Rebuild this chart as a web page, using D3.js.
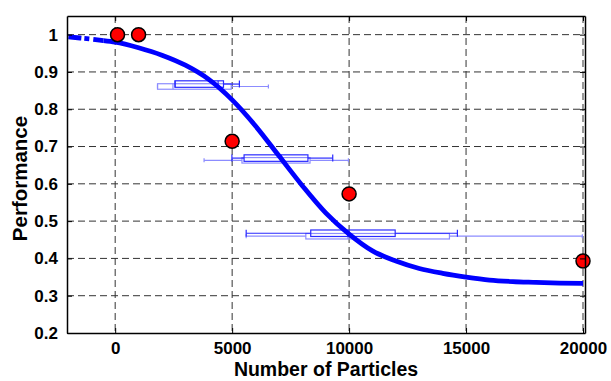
<!DOCTYPE html>
<html>
<head>
<meta charset="utf-8">
<script src="https://cdn.jsdelivr.net/npm/d3@7"></script>
<style>
  body { margin: 0; background: #fff; }
  text { font-family: "Liberation Sans", Arial, sans-serif; font-weight: bold; fill: #000; }
</style>
</head>
<body>
<div id="chart"></div>
<script>
// values
const xTicks = [0, 5000, 10000, 15000, 20000];
const yTicks = [0.2, 0.3, 0.4, 0.5, 0.6, 0.7, 0.8, 0.9, 1];
const yTickLabels = ['0.2', '0.3', '0.4', '0.5', '0.6', '0.7', '0.8', '0.9', '1'];

const fitX = [-2000, -1500, -1000, -500, 0, 1000, 2000, 3000, 4000, 5000, 6000, 7000, 8000,
  9000, 10000, 11000, 12000, 13000, 14000, 15000, 16000, 17000, 18000, 19000, 20000];
const fitY = [0.994, 0.991, 0.988, 0.984, 0.98, 0.965, 0.945, 0.918, 0.88, 0.825, 0.755, 0.675, 0.595,
  0.522, 0.465, 0.42, 0.393, 0.373, 0.36, 0.35, 0.342, 0.338, 0.336, 0.334, 0.333];

const pointX = [100, 1000, 5000, 10000, 20000];
const pointY = [1.0, 1.0, 0.714, 0.573, 0.393];

// box plots: dark set and light set
const boxY     = [0.8675, 0.669, 0.4675];
const boxLow   = [2560, 4990, 5600];
const boxQ1    = [2560, 5510, 8360];
const boxMed   = [4400, 7100, 9950];
const boxQ3    = [4630, 8240, 11970];
const boxHigh  = [5310, 9300, 14630];

const lboxY    = [0.861, 0.663, 0.4595];
const lboxLow  = [1810, 3800, 5600];
const lboxQ1   = [1810, 5420, 8150];
const lboxMed  = [2470, 7100, 9950];
const lboxQ3   = [4960, 8330, 14290];
const lboxHigh = [6550, 9970, 19970];

const W = 611, H = 381;
const margin = { top: 16, right: 26, bottom: 48, left: 67 };
const width = W - margin.left - margin.right;
const height = H - margin.top - margin.bottom;

const svg = d3.select('#chart').append('svg')
  .attr('width', W)
  .attr('height', H);

const g = svg.append('g')
  .attr('transform', `translate(${margin.left},${margin.top})`);

const x = d3.scaleLinear().domain([-2060, 20085]).range([0, width]);
const y = d3.scaleLinear().domain([0.2, 1.05]).range([height, 0]);

// grid
g.selectAll('.vgrid').data(xTicks).enter().append('line')
  .attr('x1', d => x(d)).attr('x2', d => x(d))
  .attr('y1', 0).attr('y2', height)
  .attr('stroke', '#333').attr('stroke-dasharray', '7,4');
g.selectAll('.hgrid').data(yTicks.filter(d => d > 0.2)).enter().append('line')
  .attr('x1', 0).attr('x2', width)
  .attr('y1', d => y(d)).attr('y2', d => y(d))
  .attr('stroke', '#333').attr('stroke-dasharray', '7,4');

// box plots
function drawBoxes(ys, lo, q1, med, q3, hi, color, h, capH) {
  ys.forEach((v, i) => {
    const cy = y(v);
    const bg = g.append('g').attr('stroke', color).attr('fill', 'none').attr('stroke-width', 1.2);
    bg.append('line').attr('x1', x(lo[i])).attr('x2', x(q1[i])).attr('y1', cy).attr('y2', cy);
    bg.append('line').attr('x1', x(q3[i])).attr('x2', x(hi[i])).attr('y1', cy).attr('y2', cy);
    bg.append('line').attr('x1', x(lo[i])).attr('x2', x(lo[i])).attr('y1', cy - capH / 2).attr('y2', cy + capH / 2);
    bg.append('line').attr('x1', x(hi[i])).attr('x2', x(hi[i])).attr('y1', cy - capH / 2).attr('y2', cy + capH / 2);
    bg.append('rect').attr('x', x(q1[i])).attr('y', cy - h / 2)
      .attr('width', x(q3[i]) - x(q1[i])).attr('height', h);
    bg.append('line').attr('x1', x(med[i])).attr('x2', x(med[i])).attr('y1', cy - h / 2).attr('y2', cy + h / 2);
  });
}
drawBoxes(lboxY, lboxLow, lboxQ1, lboxMed, lboxQ3, lboxHigh, '#8c8cff', 5.5, 4);
drawBoxes(boxY, boxLow, boxQ1, boxMed, boxQ3, boxHigh, '#2a2aff', 6.5, 7);

// fitted curve: dash-dot start, then solid
const fit = fitX.map((d, i) => ({ x: d, y: fitY[i] }));
const line = d3.line().x(d => x(d.x)).y(d => y(d.y)).curve(d3.curveMonotoneX);
g.append('path')
  .datum(fit.filter(d => d.x <= -500))
  .attr('d', line)
  .attr('fill', 'none').attr('stroke', '#0000ff').attr('stroke-width', 4.8)
  .attr('stroke-dasharray', '13,3,5,4,11,3');
g.append('path')
  .datum(fit.filter(d => d.x >= -500))
  .attr('d', line)
  .attr('fill', 'none').attr('stroke', '#0000ff').attr('stroke-width', 4.8);

// measured points
g.selectAll('.pt').data(pointX).enter().append('circle')
  .attr('cx', d => x(d))
  .attr('cy', (d, i) => y(pointY[i]))
  .attr('r', 7)
  .attr('fill', '#ff0000')
  .attr('stroke', '#000')
  .attr('stroke-width', 1.5);

// axes (MATLAB style box with inward ticks)
const axB = g.append('g').attr('transform', `translate(0,${height})`)
  .call(d3.axisBottom(x).tickValues(xTicks).tickFormat(d3.format('d'))
    .tickSizeInner(-5).tickSizeOuter(0).tickPadding(9));
const axL = g.append('g')
  .call(d3.axisLeft(y).tickValues(yTicks).tickFormat((d, i) => yTickLabels[i])
    .tickSizeInner(-5).tickSizeOuter(0).tickPadding(9));
g.append('g')
  .call(d3.axisTop(x).tickValues(xTicks).tickSizeInner(-5).tickSizeOuter(0).tickFormat(''));
g.append('g').attr('transform', `translate(${width},0)`)
  .call(d3.axisRight(y).tickValues(yTicks).tickSizeInner(-5).tickSizeOuter(0).tickFormat(''));

g.selectAll('.domain').attr('stroke', '#000').attr('stroke-width', 1.5);
g.selectAll('.tick line').attr('stroke', '#000');
g.selectAll('.tick text').style('font-size', '17px').style('font-weight', 'bold')
  .style('font-family', '"Liberation Sans", Arial, sans-serif');
axB.selectAll('.tick text').attr('dy', '0.71em');

// axis titles
svg.append('text')
  .attr('x', margin.left + width / 2)
  .attr('y', 376)
  .attr('text-anchor', 'middle')
  .style('font-size', '19.5px')
  .text('Number of Particles');
svg.append('text')
  .attr('transform', `translate(27,${margin.top + height / 2 + 4}) rotate(-90)`)
  .attr('text-anchor', 'middle')
  .style('font-size', '20.5px')
  .text('Performance');
</script>
</body>
</html>
